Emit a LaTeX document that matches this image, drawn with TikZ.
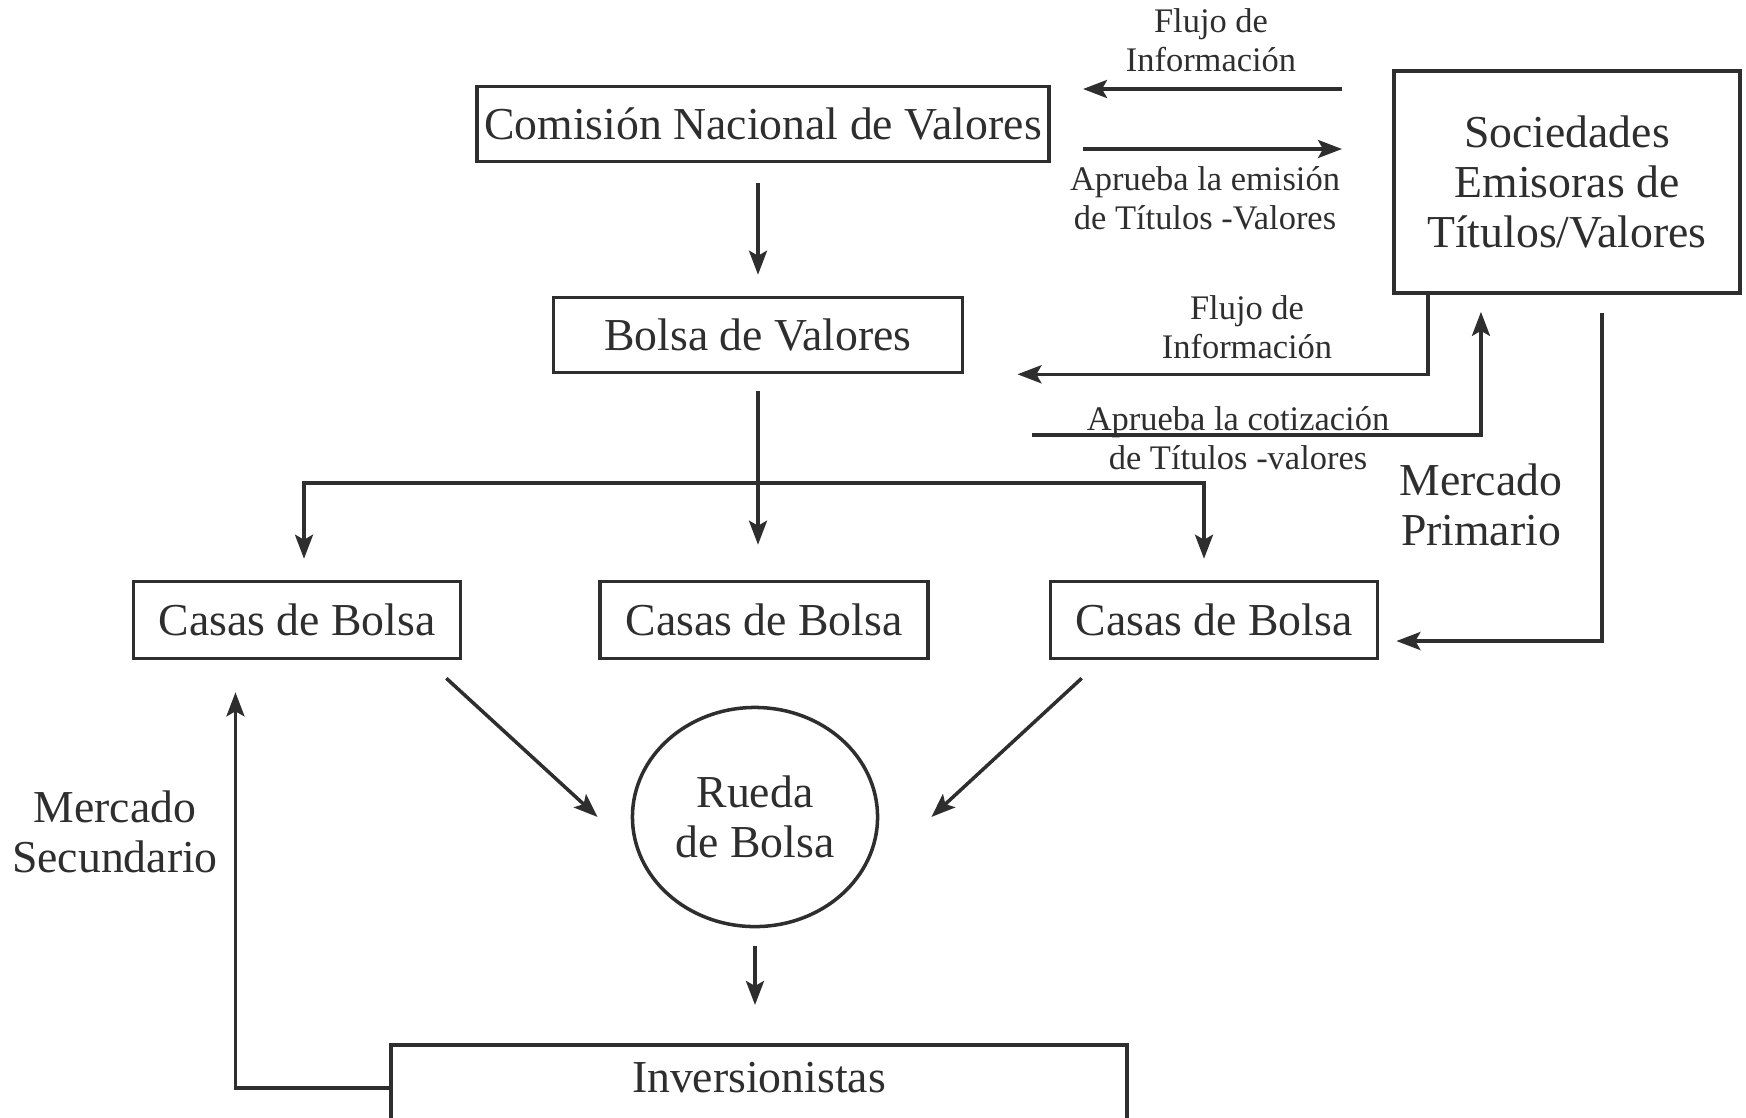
\documentclass[tikz,border=0pt]{standalone}
\usepackage{fontspec}
\setmainfont{Liberation Serif}
\usepackage{tikz}
\usetikzlibrary{positioning,shapes,arrows.meta}
\definecolor{ink}{HTML}{2E2E2E}

\begin{document}
\begin{tikzpicture}[x=0.01cm, y=-0.01cm, line width=1pt, color=ink,
    >={Stealth[length=2.4mm,width=1.8mm,inset=0.5mm]},
    box/.style={draw, rectangle, inner sep=0pt, font=\fontsize{13}{14.2}\selectfont},
    big/.style={align=center, font=\fontsize{13}{14.2}\selectfont},
    small/.style={align=center, font=\fontsize{9.8}{11.1}\selectfont}]
    \useasboundingbox (0,0) rectangle (1746,1117);
    \clip (0,0) rectangle (1746,1117);

    \node[box, minimum width=5.72cm, minimum height=0.75cm] (cnv) at (763,124) {Comisión Nacional de Valores};
    \node[box, align=center, minimum width=3.46cm, minimum height=2.22cm] (soc) at (1567,182) {Sociedades\\Emisoras de\\Títulos/Valores};
    \node[box, minimum width=4.09cm, minimum height=0.75cm] (bolsa) at (758,335) {Bolsa de Valores};

    \node[box, minimum width=3.27cm, minimum height=0.77cm] (casasA) at (297,620) {Casas de Bolsa};
    \node[box, minimum width=3.28cm, minimum height=0.77cm] (casasB) at (764,620) {Casas de Bolsa};
    \node[box, minimum width=3.27cm, minimum height=0.77cm] (casasC) at (1214,620) {Casas de Bolsa};

    \node[draw, ellipse, big, inner sep=0pt, minimum width=2.45cm, minimum height=2.19cm] (rueda) at (755,817) {Rueda\\de Bolsa};
    \node[box, anchor=north, minimum width=7.36cm, text height=0.48cm, text depth=0.52cm] (inv) at (759,1043) {Inversionistas};

    % labels
    \node[small] (flujoA) at (1211,40) {Flujo de\\Información};
    \node[small] (emision) at (1205,198) {Aprueba la emisión\\de Títulos -Valores};
    \node[small] (flujoB) at (1247,327) {Flujo de\\Información};
    \node[small] (cotiza) at (1238,438) {Aprueba la cotización\\de Títulos -valores};
    \node[big] (primario) at (1481,505) {Mercado\\Primario};
    \node[big] (secundario) at (115,832) {Mercado\\Secundario};

    \coordinate (fA1) at (1342,89);
    \coordinate (fA2) at (1083,89);
    \coordinate (eA1) at (1083,149);
    \coordinate (eA2) at (1342,149);
    \coordinate (cot) at (1032,435);
    \coordinate (split) at (755,483);

    \draw[->] (fA1) -- (fA2);
    \draw[->] (eA1) -- (eA2);

    \draw[->, shorten <=0.2cm, shorten >=0.21cm] (bolsa.north |- cnv.south) -- (bolsa.north);
    \draw[->, shorten <=0.17cm, shorten >=0.35cm] (bolsa.south) -- (bolsa.south |- casasB.north);

    \draw[->, shorten >=0.21cm] (split) -| ([xshift=0.07cm]casasA.north);
    \draw[->, shorten >=0.21cm] (split) -| ([xshift=-0.1cm]casasC.north);

    \draw[->, shorten >=0.53cm] ([xshift=0.36cm]soc.south west) |- (bolsa.south east);
    \draw[->, shorten >=0.17cm] (cot) -| ([xshift=-0.86cm]soc.south);
    \draw[->, shorten <=0.18cm, shorten >=0.17cm] ([xshift=0.35cm]soc.south) |- ([yshift=-0.21cm]casasC.east);

    \draw[->] ([shift={(-16,18)}]casasA.south east) -- ([xshift=-0.33cm]rueda.west);
    \draw[->] ([shift={(33,18)}]casasC.south west) -- ([xshift=0.52cm]rueda.east);

    \draw[->, shorten <=0.175cm, shorten >=0.38cm] (rueda.south) -- (rueda.south |- inv.north);
    \draw[->, shorten >=0.32cm] ([yshift=0.07cm]inv.west) -| ([xshift=-0.615cm]casasA.south);

\end{tikzpicture}
\end{document}
